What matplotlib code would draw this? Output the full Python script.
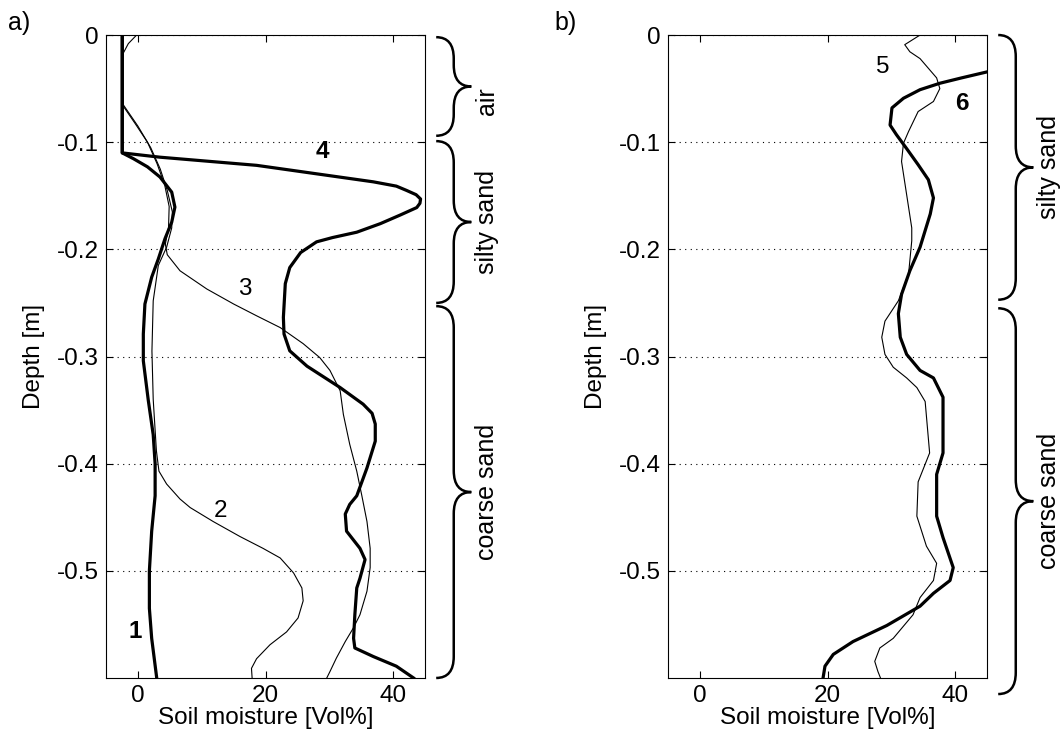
import matplotlib
matplotlib.use("Agg")
import matplotlib.pyplot as plt
from matplotlib.path import Path
from matplotlib.patches import PathPatch
from matplotlib.transforms import blended_transform_factory

plt.rcParams['font.family'] = ['Liberation Sans', 'DejaVu Sans']
plt.rcParams['font.size'] = 17.5

# panel a) soil moisture profiles (x = Vol%, y = depth in m)
c1_x = [-2.45, -2.45, -0.7, 1.5, 3.46, 5.3, 5.8, 5.3, 4.25, 3.2, 2.16, 1.1, 0.85, 0.85,
        1.63, 2.4, 2.7, 2.7, 2.16, 1.8, 1.8, 2.16, 2.95]
c1_y = [0, -0.110, -0.1154, -0.123, -0.1325, -0.1466, -0.1606, -0.1746, -0.19, -0.209,
        -0.226, -0.251, -0.279, -0.304, -0.341, -0.373, -0.40, -0.43, -0.463, -0.5,
        -0.535, -0.563, -0.6]

c2_x = [-0.2, -1.5, -2.3, -2.4, -2.3, 0.0, 2.0, 3.5, 4.6, 5.4, 5.3, 4.5, 3.2, 2.4, 2.2,
        2.4, 2.9, 3.3, 4.5, 6.6, 8.2, 11.8, 16, 19.6, 22.3, 24.4, 25.7, 25.9, 25.1, 23.3,
        20.7, 18.6, 17.8, 17.9]
c2_y = [0, -0.008, -0.017, -0.04, -0.065, -0.085, -0.105, -0.125, -0.145, -0.165, -0.18,
        -0.198, -0.215, -0.248, -0.295, -0.34, -0.388, -0.407, -0.419, -0.433, -0.441,
        -0.454, -0.468, -0.479, -0.488, -0.502, -0.516, -0.528, -0.544, -0.557, -0.569,
        -0.582, -0.591, -0.6]

c3_x = [-2.45, -2.45, -0.5, 1.5, 3.0, 4.2, 4.9, 4.8, 4.3, 4.6, 6.6, 10.8, 15, 18.6, 22.3,
        25.9, 28.5, 30.1, 31.7, 32.2, 33.2, 34.3, 35.1, 35.9, 36.4, 36.4, 35.9, 34.8,
        33.8, 32.5, 31.1, 30.1, 29.6]
c3_y = [0, -0.065, -0.082, -0.1, -0.12, -0.14, -0.16, -0.18, -0.195, -0.205, -0.22,
        -0.237, -0.251, -0.262, -0.273, -0.288, -0.301, -0.313, -0.332, -0.354, -0.382,
        -0.407, -0.43, -0.454, -0.479, -0.497, -0.519, -0.541, -0.553, -0.566, -0.5815,
        -0.594, -0.6]

c4_x = [-2.45, -2.45, 3.46, 18.6, 36.9, 40.5, 42.1, 43.6, 44.3, 44.2, 43.7, 41.1, 38.0,
        34.3, 30.5, 28.0, 25.5, 23.8, 23.1, 22.8, 22.9, 23.8, 26.5, 31.7, 35.3, 36.7,
        37.2, 37.2, 35.9, 34.3, 33.2, 32.5, 32.7, 34.8, 35.6, 34.8, 34.3, 34.0, 33.8,
        34.0, 36.9, 40.5, 43.2]
c4_y = [0, -0.110, -0.114, -0.1216, -0.137, -0.141, -0.145, -0.149, -0.153, -0.157,
        -0.161, -0.168, -0.176, -0.184, -0.189, -0.193, -0.203, -0.217, -0.232, -0.2635,
        -0.279, -0.2947, -0.309, -0.329, -0.3445, -0.353, -0.363, -0.379, -0.404, -0.43,
        -0.438, -0.447, -0.463, -0.479, -0.4895, -0.507, -0.516, -0.541, -0.563, -0.572,
        -0.580, -0.589, -0.600]

# panel b)
c5_x = [34.5, 32.1, 32.9, 34.5, 37.1, 37.6, 36.6, 34.2, 32.7, 31.9, 31.6, 32.4, 33.2,
        33.2, 32.7, 31.1, 29.0, 28.5, 29.0, 30.3, 32.4, 34.0, 35.3, 36.0, 34.2, 34.0,
        35.5, 37.1, 36.6, 34.5, 33.4, 30.3, 28.2, 27.4, 27.9, 28.3]
c5_y = [0, -0.009, -0.0156, -0.022, -0.040, -0.050, -0.062, -0.0714, -0.090, -0.101,
        -0.118, -0.149, -0.180, -0.192, -0.223, -0.248, -0.267, -0.282, -0.298, -0.310,
        -0.320, -0.329, -0.342, -0.39, -0.417, -0.449, -0.477, -0.493, -0.509, -0.525,
        -0.541, -0.563, -0.572, -0.5845, -0.594, -0.6]

c6_x = [46, 41, 37.6, 34.5, 31.9, 30.1, 29.8, 30.8, 32.4, 34.2, 35.8, 36.6, 36.1, 34.5,
        32.9, 31.6, 31.1, 31.4, 32.4, 34.5, 36.6, 38.1, 38.1, 37.1, 37.1, 38.1, 39.7,
        39.2, 36.6, 34.5, 29.3, 24.0, 20.9, 19.6, 19.3]
c6_y = [-0.033, -0.040, -0.045, -0.051, -0.059, -0.068, -0.084, -0.093, -0.106, -0.121,
        -0.135, -0.152, -0.167, -0.198, -0.22, -0.242, -0.260, -0.282, -0.298, -0.313,
        -0.32, -0.338, -0.390, -0.41, -0.449, -0.469, -0.497, -0.509, -0.521, -0.533,
        -0.551, -0.566, -0.578, -0.589, -0.6]

layers_a = [("air", -0.002, -0.094), ("silty sand", -0.099, -0.250),
            ("coarse sand", -0.253, -0.600)]
layers_b = [("silty sand", 0.0, -0.247), ("coarse sand", -0.255, -0.615)]

y_ticks = [0, -0.1, -0.2, -0.3, -0.4, -0.5]
x_ticks = [0, 20, 40]

THICK = 2.3
THIN = 0.8


def brace(ax, y_top, y_bot, label, text_y=None):
    tr = blended_transform_factory(ax.transAxes, ax.transData)
    x0, x1, x2, r = 1.035, 1.09, 1.145, 0.02
    ym = (y_top + y_bot) / 2
    verts = [(x0, y_top), (x1, y_top), (x1, y_top - r),
             (x1, ym + r), (x1, ym), (x2, ym),
             (x1, ym), (x1, ym - r),
             (x1, y_bot + r), (x1, y_bot), (x0, y_bot)]
    codes = [Path.MOVETO, Path.CURVE3, Path.CURVE3, Path.LINETO, Path.CURVE3, Path.CURVE3,
             Path.CURVE3, Path.CURVE3, Path.LINETO, Path.CURVE3, Path.CURVE3]
    ax.add_patch(PathPatch(Path(verts, codes), transform=tr, fill=False, lw=1.8,
                           ec='k', clip_on=False))
    if text_y is None:
        text_y = ym
    ax.text(1.215, text_y, label, transform=tr, rotation=90, rotation_mode='anchor',
            ha='center', va='baseline', fontsize=18)


def setup(ax):
    ax.set_xlim(-5, 45)
    ax.set_ylim(-0.6, 0)
    ax.set_xticks(x_ticks)
    ax.set_yticks(y_ticks)
    ax.set_yticklabels(['0', '-0.1', '-0.2', '-0.3', '-0.4', '-0.5'])
    ax.tick_params(direction='in', top=True, right=True, length=5, width=0.8, pad=5)
    ax.yaxis.grid(True, linestyle=(0, (1, 4)), color='k', lw=0.8)
    ax.set_axisbelow(True)
    for s in ax.spines.values():
        s.set_linewidth(0.8)
    ax.set_xlabel('Soil moisture [Vol%]', labelpad=0)
    ax.set_ylabel('Depth [m]', labelpad=9)


fig = plt.figure(figsize=(10.61, 7.47), dpi=100)
ax1 = fig.add_axes([0.0999, 0.0924, 0.3007, 0.8607])
ax2 = fig.add_axes([0.6296, 0.0924, 0.3007, 0.8607])

for ax in (ax1, ax2):
    setup(ax)

ax1.plot(c2_x, c2_y, color='k', lw=THIN)
ax1.plot(c3_x, c3_y, color='k', lw=THIN)
ax1.plot(c1_x, c1_y, color='k', lw=THICK)
ax1.plot(c4_x, c4_y, color='k', lw=THICK)
ax1.text(-0.45, -0.557, '1', fontweight='bold', ha='center', va='center')
ax1.text(12.9, -0.444, '2', ha='center', va='center')
ax1.text(16.8, -0.237, '3', ha='center', va='center')
ax1.text(28.9, -0.109, '4', fontweight='bold', ha='center', va='center')

ax2.plot(c5_x, c5_y, color='k', lw=THIN)
ax2.plot(c6_x, c6_y, color='k', lw=THICK)
ax2.text(28.7, -0.030, '5', ha='center', va='center')
ax2.text(41.1, -0.064, '6', fontweight='bold', ha='center', va='center')

for name, yt, yb in layers_a:
    brace(ax1, yt, yb, name, text_y=-0.062 if name == 'air' else None)
for name, yt, yb in layers_b:
    brace(ax2, yt, yb, name)

fig.text(0.008, 0.985, 'a)', fontsize=18, va='top')
fig.text(0.523, 0.985, 'b)', fontsize=18, va='top')

fig.savefig('out.png', dpi=100)
